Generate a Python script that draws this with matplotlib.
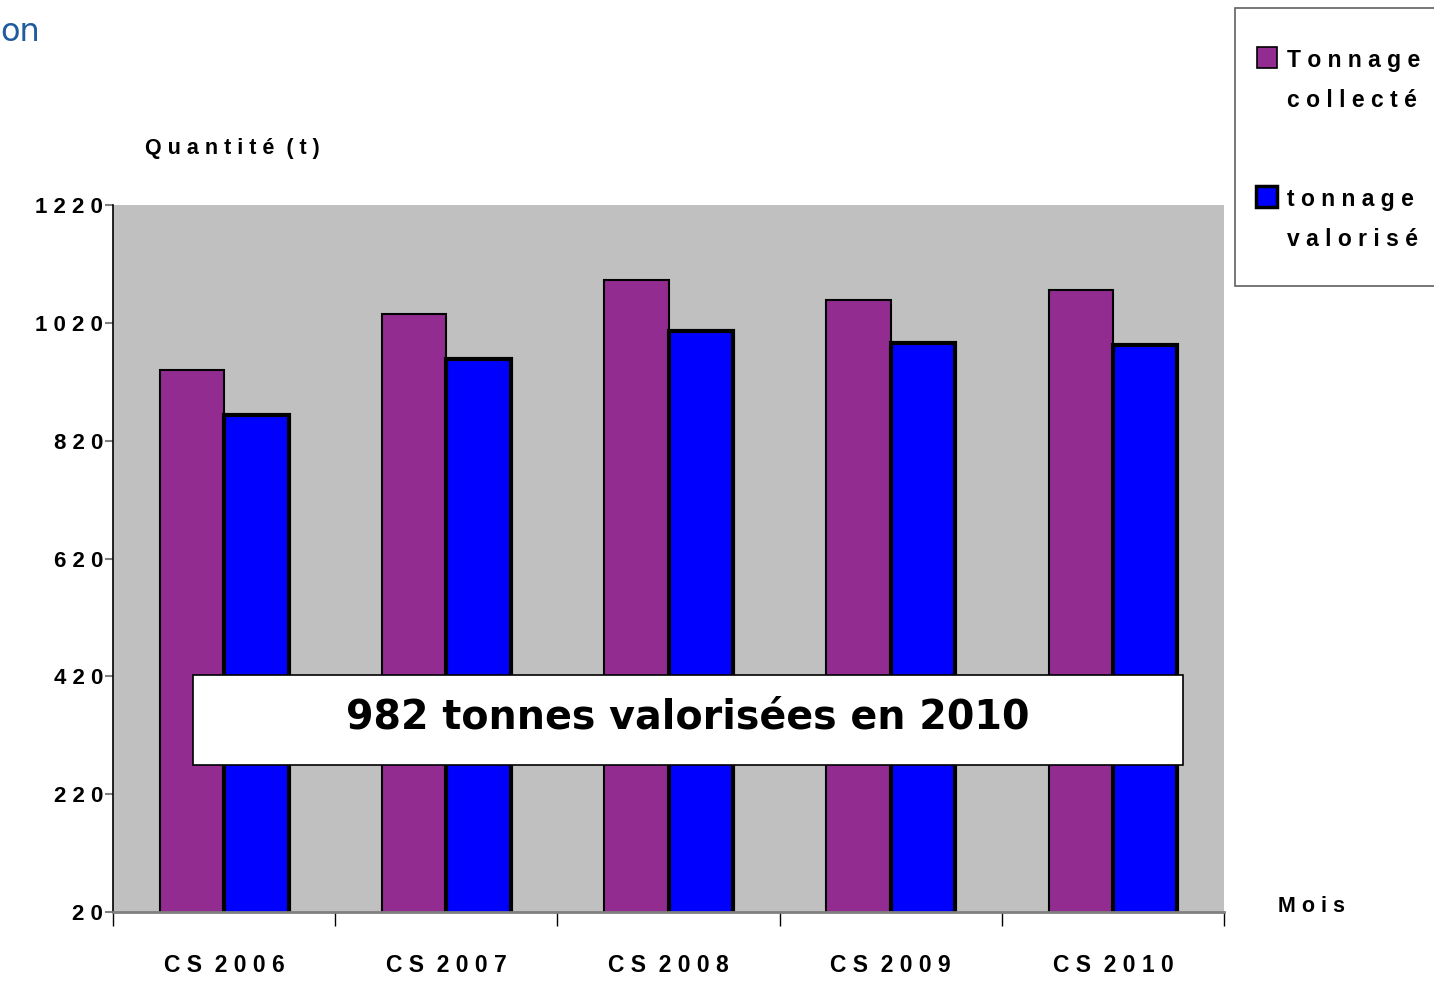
import matplotlib
matplotlib.use("Agg")
import matplotlib.pyplot as plt
from matplotlib.patches import Rectangle
import numpy as np

# data
categories = ["C S  2 0 0 6", "C S  2 0 0 7", "C S  2 0 0 8", "C S  2 0 0 9", "C S  2 0 1 0"]
collecte = [940, 1035, 1093, 1059, 1076]
valorise = [864, 959, 1006, 986, 982]
yticks = [20, 220, 420, 620, 820, 1020, 1220]

plt.rcParams['font.family'] = ['Liberation Sans', 'DejaVu Sans']

fig = plt.figure(figsize=(14.34, 9.82), dpi=100)
ax = fig.add_axes([0.0788, 0.0713, 0.7748, 0.7199])
ax.set_facecolor('#c0c0c0')

x = np.arange(len(categories))
w = 0.29
ax.bar(x - w / 2, collecte, w, color='#932c90', edgecolor='black', linewidth=1.5, zorder=2)
ax.bar(x + w / 2, valorise, w, color='#0000ff', edgecolor='black', linewidth=3, zorder=2)

ax.set_xlim(-0.5, len(categories) - 0.5)
ax.set_ylim(20, 1220)
ax.set_yticks(yticks)
ax.set_yticklabels([" ".join(str(v)) for v in yticks], fontsize=16, fontweight='bold')
ax.set_xticks(x)
ax.set_xticklabels(categories, fontsize=16.5, fontweight='bold')
ax.tick_params(axis='x', length=0, pad=30)
ax.set_xticks(np.arange(-0.5, len(categories)), minor=True)
ax.tick_params(axis='x', which='minor', length=10, width=1, color='black')
ax.tick_params(axis='y', length=6, width=1.5, color='#808080', pad=1)

for s in ['top', 'right']:
    ax.spines[s].set_visible(False)
ax.spines['left'].set_linewidth(1.2)
ax.spines['bottom'].set_color('#808080')
ax.spines['bottom'].set_linewidth(2)

# annotation box
ax.add_patch(Rectangle((0.072, 0.208), 0.891, 0.127, transform=ax.transAxes,
                       facecolor='white', edgecolor='black', linewidth=1.2, zorder=5))
ax.text(0.5175, 0.2745, "982 tonnes valorisées en 2010", transform=ax.transAxes,
        ha='center', va='center', fontsize=28.5, fontweight='bold',
        family='DejaVu Sans', zorder=6)

# axis titles
fig.text(0.101, 0.849, "Q u a n t i t é  ( t )", fontsize=15.5, fontweight='bold', va='center')
fig.text(0.891, 0.077, "M o i s", fontsize=15.5, fontweight='bold', va='center')

# cropped header fragment
fig.text(0.0, 0.967, "on", fontsize=23, color='#1f5c9e', va='center', family='DejaVu Sans')

# legend box
fig.patches.append(Rectangle((0.8612, 0.7088), 0.145, 0.2831, transform=fig.transFigure,
                             facecolor='white', edgecolor='#606060', linewidth=1.2))
fig.patches.append(Rectangle((0.8766, 0.9308), 0.0139, 0.0214, transform=fig.transFigure,
                             facecolor='#932c90', edgecolor='black', linewidth=1.2))
fig.patches.append(Rectangle((0.8759, 0.7893), 0.0146, 0.0214, transform=fig.transFigure,
                             facecolor='#0000ff', edgecolor='black', linewidth=2.5))
fig.text(0.8975, 0.9385, "T o n n a g e", fontsize=16.5, fontweight='bold', va='center')
fig.text(0.8975, 0.8975, "c o l l e c t é", fontsize=16.5, fontweight='bold', va='center')
fig.text(0.8975, 0.797, "t o n n a g e", fontsize=16.5, fontweight='bold', va='center')
fig.text(0.8975, 0.756, "v a l o r i s é", fontsize=16.5, fontweight='bold', va='center')

fig.savefig("out.png", dpi=100)
